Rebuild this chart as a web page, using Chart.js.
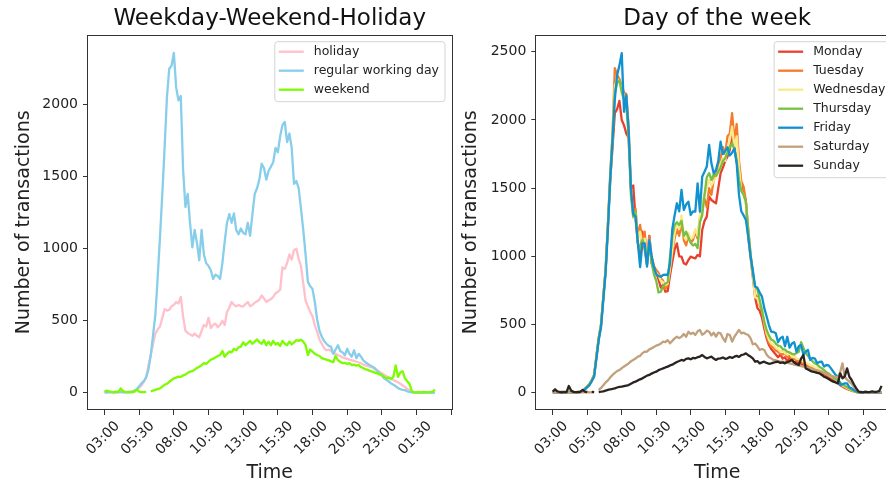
<!DOCTYPE html>
<html lang="en">
<head>
<meta charset="UTF-8" />
<title>Transactions by time of day</title>
<script src="https://cdn.jsdelivr.net/npm/chart.js@4"></script>
<style>
  html, body { margin: 0; padding: 0; background: #fff; }
  body { width: 886px; height: 486px; overflow: hidden; position: relative; }
  .panel { position: absolute; top: 0; }
  #left { left: 0; }
  #right { left: 460px; }
</style>
</head>
<body>
<div class="panel" id="left"><canvas id="chartLeft" width="460" height="486"></canvas></div>
<div class="panel" id="right"><canvas id="chartRight" width="460" height="486"></canvas></div>
<script>
// 10-minute slots from 03:00 to 02:50 (next day), as minutes after 03:00
const minutes = [];
for (let i = 0; i < 144; i++) minutes.push(i * 10);

const tickMinutes = [0, 150, 300, 450, 600, 750, 900, 1050, 1200, 1350, 1500];
const tickLabels = ['03:00', '05:30', '08:00', '10:30', '13:00', '15:30', '18:00', '20:30', '23:00', '01:30', ''];
const yTicksLeft = [0, 500, 1000, 1500, 2000];
const yTicksRight = [0, 500, 1000, 1500, 2000, 2500];

// left panel
const holiday = [
  2, 1, 3, 2, 1, 2, 4, 3, 2, 1, 2, 3,
  5, 10, 20, 35, 50, 75, 110, 190, 260, 340, 410, 440,
  460, 520, 580, 570, 575, 600, 610, 630, 620, 665, 530, 430,
  415, 405, 395, 410, 395, 385, 430, 470, 460, 520, 450, 470,
  480, 455, 470, 500, 470, 560, 590, 630, 610, 600, 610, 600,
  600, 615, 630, 600, 610, 625, 635, 645, 675, 655, 630, 640,
  650, 665, 690, 700, 715, 870, 860, 900, 960, 925, 990, 1000,
  930, 880, 760, 640, 600, 560, 530, 470, 420, 370, 340, 310,
  295, 300, 290, 275, 270, 260, 255, 245, 240, 235, 230, 225,
  222, 215, 210, 205, 195, 190, 185, 180, 175, 165, 158, 145,
  135, 125, 115, 105, 98, 88, 80, 72, 62, 50, 40, 28,
  18, 8, 2, 0, 0, 0, 0, 0, 0, 0, 0, 0
];
const regularDay = [
  5, 3, 4, 6, 3, 2, 5, 8, 4, 3, 6, 5,
  8, 15, 25, 45, 65, 80, 105, 160, 260, 400, 540, 800,
  1080, 1380, 1700, 2050, 2250, 2270, 2360, 2120, 2030, 2060, 1550, 1290,
  1380, 1180, 1010, 1130, 1040, 920, 1130, 960, 900, 880, 850, 790,
  820, 810, 790, 900, 1050, 1180, 1240, 1180, 1245, 1130, 1100, 1140,
  1110, 1100, 1180, 1090, 1240, 1380, 1420, 1480, 1590, 1560, 1480, 1540,
  1570, 1600, 1700, 1670, 1780, 1860, 1880, 1740, 1800, 1700, 1450, 1470,
  1420, 1280, 1130, 960, 770, 740, 720, 630, 510, 430, 390, 360,
  340, 325, 320, 270, 300, 330, 290, 280, 260, 305, 270, 250,
  295, 240, 270, 250, 225, 210, 200, 190, 180, 170, 150, 135,
  120, 100, 90, 78, 65, 55, 45, 32, 25, 20, 18, 10,
  6, 2, 0, 0, 0, 0, 0, 0, 0, 0, 0, 0
];
const weekend = [
  8, 15, 10, 6, 4, 8, 5, 30, 12, 6, 4, 6,
  5, 8, 22, 8, 5, 4, 6, null, 8, 15, 20, 25,
  30, 42, 55, 62, 76, 88, 100, 105, 112, 110, 120, 125,
  138, 146, 150, 160, 172, 180, 192, 205, 200, 215, 230, 235,
  245, 255, 262, 290, 250, 270, 285, 280, 305, 295, 315, 320,
  350, 330, 345, 360, 340, 355, 370, 350, 340, 365, 330, 355,
  330, 360, 335, 345, 325, 360, 340, 330, 355, 335, 350, 365,
  360, 368, 355, 330, 262, 300, 285, 270, 262, 255, 240, 235,
  230, 225, 218, 212, 255, 225, 215, 205, 208, 200, 205, 192,
  195, 188, 192, 178, 170, 162, 158, 150, 146, 140, 134, 126,
  125, 110, 100, 105, 95, 110, 190, 110, 140, 150, 100, 80,
  60, 10, 3, 2, 4, 3, 5, 4, 3, 6, 8, 22
];

// right panel
const monday = [
  2, 4, 3, 2, 5, 3, 2, 4, 3, 2, 3, 4,
  6, 14, 28, 45, 65, 95, 130, 270, 400, 500, 700, 900,
  1230, 1560, 1800, 2050, 2080, 2140, 2000, 1960, 1900, 1870, 1500, 1520,
  1280, 1100, 1000, 1180, 1050, 940, 1150, 950, 920, 880, 830, 770,
  790, 740, 745, 860, 960, 1050, 1095, 1000, 998, 949, 940, 973,
  998, 990, 985, 1010, 1000, 1193, 1260, 1291, 1438, 1413, 1400, 1389,
  1500, 1609, 1650, 1700, 1731, 1780, 1902, 1800, 1700, 1560, 1520, 1480,
  1400, 1150, 1000, 850, 700, 620, 600, 550, 470, 400, 350, 320,
  300, 280, 260, 280, 250, 260, 230, 255, 240, 220, 230, 210,
  215, 200, 195, 185, 180, 175, 165, 160, 150, 140, 135, 125,
  115, 100, 95, 80, 70, 55, 45, 35, 28, 20, 15, 10,
  5, 2, 0, 0, 0, 0, 0, 0, 0, 0, 0, 0
];
const tuesday = [
  3, 10, 4, 3, 2, 4, 3, 6, 2, 5, 4, 3,
  5, 13, 26, 42, 60, 90, 125, 260, 395, 490, 700, 900,
  1230, 1600, 1900, 2380, 2330, 2300, 2250, 2200, 2190, 1950, 1500, 1300,
  1350, 1150, 1230, 1100, 1180, 950, 1150, 1000, 930, 900, 880, 840,
  820, 760, 790, 900, 1020, 1130, 1200, 1150, 1250, 1120, 1080, 1150,
  1100, 1120, 1180, 1130, 1280, 1380, 1420, 1360, 1500, 1450, 1560, 1600,
  1650, 1720, 1800, 1750, 1880, 1900, 2050, 1850, 1970, 1700, 1550, 1510,
  1400, 1200, 1020, 880, 720, 700, 640, 600, 500, 420, 370, 340,
  330, 310, 300, 285, 280, 290, 260, 270, 250, 245, 240, 230,
  225, 215, 210, 200, 190, 185, 175, 170, 165, 150, 145, 135,
  125, 115, 105, 95, 80, 65, 50, 40, 32, 25, 18, 10,
  5, 2, 0, 0, 0, 0, 0, 0, 0, 0, 0, 0
];
const wednesday = [
  2, 3, 4, 2, 3, 5, 2, 3, 4, 2, 3, 2,
  6, 13, 27, 43, 62, 92, 128, 265, 398, 495, 700, 900,
  1220, 1580, 1880, 2250, 2300, 2280, 2230, 2180, 2150, 1900, 1480, 1280,
  1320, 1120, 1180, 1080, 1130, 950, 1120, 980, 900, 880, 860, 820,
  810, 790, 800, 920, 1050, 1170, 1240, 1200, 1300, 1150, 1120, 1170,
  1130, 1140, 1200, 1150, 1300, 1400, 1450, 1500, 1560, 1520, 1550, 1580,
  1620, 1680, 1720, 1700, 1800, 1850, 1950, 1800, 1880, 1650, 1480, 1450,
  1380, 1180, 1000, 860, 700, 690, 650, 620, 520, 440, 390, 360,
  350, 330, 320, 300, 310, 290, 280, 290, 265, 270, 250, 245,
  240, 228, 222, 212, 200, 195, 185, 178, 170, 160, 150, 140,
  130, 120, 110, 98, 85, 70, 55, 45, 35, 26, 18, 10,
  5, 2, 0, 0, 0, 0, 0, 0, 0, 0, 0, 0
];
const thursday = [
  3, 2, 3, 4, 2, 3, 5, 2, 3, 4, 2, 3,
  6, 14, 28, 44, 63, 93, 130, 268, 400, 500, 705, 905,
  1230, 1590, 1880, 2200, 2270, 2290, 2200, 2150, 2100, 1880, 1450, 1290,
  1330, 1100, 1050, 1120, 1080, 940, 1100, 950, 870, 820, 735, 740,
  780, 800, 810, 1000, 1150, 1230, 1250, 1230, 1260, 1150, 1180, 1140,
  1100, 1080, 1090, 1060, 1250, 1300, 1450, 1580, 1610, 1560, 1600, 1590,
  1620, 1650, 1700, 1720, 1760, 1800, 1830, 1780, 1700, 1560, 1480, 1450,
  1400, 1200, 1020, 870, 780, 760, 680, 600, 520, 460, 420, 390,
  380, 360, 345, 340, 320, 315, 300, 295, 285, 280, 290, 300,
  370, 330, 290, 270, 245, 230, 215, 205, 190, 180, 165, 150,
  140, 125, 110, 100, 90, 75, 60, 50, 40, 30, 20, 12,
  6, 2, 0, 0, 0, 0, 0, 0, 0, 0, 0, 0
];
const friday = [
  3, 5, 2, 4, 6, 3, 2, 5, 4, 3, 2, 4,
  5, 12, 25, 40, 56, 85, 117, 250, 386, 480, 680, 880,
  1200, 1560, 1850, 2150, 2330, 2400, 2490, 2060, 2180, 1930, 1500, 1310,
  1290, 1100, 920, 1095, 1095, 924, 1120, 1000, 920, 870, 855, 850,
  863, 865, 863, 949, 1200, 1300, 1389, 1330, 1487, 1340, 1380, 1401,
  1303, 1330, 1328, 1535, 1328, 1584, 1620, 1658, 1817, 1682, 1609, 1633,
  1700, 1840, 1750, 1770, 1800, 1740, 1760, 1790, 1680, 1450, 1330, 1300,
  1267, 1144, 1000, 900, 777, 770, 735, 704, 620, 560, 496, 447,
  445, 435, 370, 400, 410, 340, 410, 330, 360, 370, 300, 340,
  350, 280, 300, 313, 240, 255, 250, 215, 225, 227, 191, 203,
  200, 178, 154, 130, 117, 56, 62, 68, 68, 40, 32, 20,
  10, 4, 0, 0, 0, 0, 0, 0, 0, 0, 0, 0
];
const saturday = [
  2, 3, 2, 4, 3, 2, 3, 2, 4, 3, 2, 3,
  3, 2, 4, 3, 2, 3, 4, null, 20, 35, 55, 75,
  90, 112, 130, 145, 158, 166, 180, 192, 203, 215, 230, 240,
  250, 264, 270, 290, 300, 301, 318, 325, 335, 345, 350, 360,
  374, 370, 385, 362, 380, 398, 410, 400, 411, 430, 410, 447,
  430, 440, 423, 450, 460, 425, 435, 455, 447, 420, 440, 411,
  440, 435, 400, 374, 430, 423, 374, 410, 435, 460, 435, 440,
  430, 423, 400, 355, 360, 340, 313, 320, 313, 280, 260, 252,
  240, 238, 232, 227, 228, 225, 220, 215, 212, 205, 203, 198,
  195, 191, 188, 182, 178, 172, 168, 163, 158, 154, 145, 138,
  130, 125, 120, 117, 110, 150, 215, 117, 95, 81, 65, 44,
  25, 7, 3, 2, 3, 2, 4, 3, 2, 3, 2, 5
];
const sunday = [
  8, 25, 10, 5, 3, 6, 4, 49, 15, 6, 4, 5,
  6, 20, 8, 5, null, 6, 4, null, 5, 7, 10, 15,
  20, 25, 28, 32, 38, 42, 44, 48, 52, 56, 65, 75,
  81, 90, 98, 105, 115, 125, 130, 140, 148, 154, 165, 172,
  178, 185, 191, 200, 205, 215, 225, 232, 240, 235, 248, 252,
  245, 255, 252, 260, 265, 276, 262, 252, 258, 264, 250, 240,
  250, 252, 258, 248, 252, 262, 255, 264, 270, 262, 276, 280,
  288, 275, 265, 252, 227, 232, 215, 222, 227, 218, 212, 215,
  220, 225, 227, 218, 222, 215, 225, 230, 240, 222, 210, 203,
  250, 276, 178, 170, 160, 154, 150, 145, 142, 130, 117, 110,
  100, 90, 81, 75, 68, 142, 105, 120, 178, 117, 93, 60,
  32, 7, 5, 3, 8, 4, 6, 10, 5, 8, 12, 50
];

Chart.defaults.font.family = '"DejaVu Sans", "Liberation Sans", sans-serif';
Chart.defaults.color = '#222';

const series = values => values.map((v, i) => ({ x: minutes[i], y: v }));

function line(label, values, color, order) {
  return {
    label: label, data: series(values), borderColor: color, backgroundColor: color,
    borderWidth: 2.3, pointRadius: 0, tension: 0, borderJoinStyle: 'round', order: order
  };
}

// axes frame on all four sides plus a matplotlib-like legend in the upper right corner
const frameAndLegend = {
  id: 'frameAndLegend',
  afterDatasetsDraw(chart) {
    const { ctx, chartArea: a } = chart;
    ctx.save();
    ctx.strokeStyle = '#333';
    ctx.lineWidth = 1;
    ctx.strokeRect(Math.round(a.left) - 0.5, Math.round(a.top) + 0.5,
      Math.round(a.right - a.left) + 1, Math.round(a.bottom - a.top) - 1);

    const items = chart.data.datasets;
    ctx.font = '12.5px "DejaVu Sans"';
    const textW = Math.max(...items.map(d => ctx.measureText(d.label).width));
    const w = 4 + 25 + 10 + textW + 6;
    const h = 10 + (items.length - 1) * 19 + 12;
    const x0 = a.right - 6.5 - w;
    const y0 = a.top + 7;
    ctx.beginPath();
    ctx.roundRect(x0, y0, w, h, 3);
    ctx.fillStyle = 'rgba(255,255,255,0.8)';
    ctx.fill();
    ctx.strokeStyle = '#d4d4d4';
    ctx.stroke();
    items.forEach((d, k) => {
      const cy = y0 + 10 + k * 19;
      ctx.beginPath();
      ctx.moveTo(x0 + 4, cy);
      ctx.lineTo(x0 + 29, cy);
      ctx.strokeStyle = d.borderColor;
      ctx.lineWidth = 2.3;
      ctx.stroke();
      ctx.fillStyle = '#222';
      ctx.textBaseline = 'middle';
      ctx.fillText(d.label, x0 + 39, cy + 0.5);
    });
    ctx.restore();
  }
};

function options(title, yMin, yMax, yTicks, yWidth, yTitlePad, padRight) {
  return {
    responsive: false,
    animation: false,
    devicePixelRatio: 1,
    layout: { padding: { left: 0, right: padRight, top: 0, bottom: 0 } },
    plugins: {
      legend: { display: false },
      tooltip: { enabled: false },
      title: {
        display: true, text: title, fullSize: false, color: '#111',
        font: { size: 23, weight: 'normal' }, padding: { top: 5.2, bottom: 1.9 }
      }
    },
    scales: {
      x: {
        type: 'linear', min: -71.5, max: 1501.5,
        afterBuildTicks: s => { s.ticks = tickMinutes.map(v => ({ value: v })); },
        afterFit: s => { s.height = 76; s.paddingLeft = 0; s.paddingRight = 0; },
        grid: { drawOnChartArea: false, drawTicks: true, tickLength: 5, color: '#333' },
        border: { display: false },
        ticks: {
          autoSkip: false, maxRotation: 45, minRotation: 45, labelOffset: 13, padding: 3,
          font: { size: 14 }, color: '#222',
          callback: (v, i) => tickLabels[i]
        },
        title: { display: true, text: 'Time', color: '#222', font: { size: 19 }, padding: { top: 0, bottom: 1.6 } }
      },
      y: {
        min: yMin, max: yMax,
        afterBuildTicks: s => { s.ticks = yTicks.map(v => ({ value: v })); },
        afterFit: s => { s.width = yWidth; s.paddingTop = 0; s.paddingBottom = 0; },
        grid: { drawOnChartArea: false, drawTicks: true, tickLength: 5, color: '#333' },
        border: { display: false },
        ticks: { padding: 5, font: { size: 14 }, color: '#222', callback: v => String(v) },
        title: {
          display: true, text: 'Number of transactions', color: '#222',
          font: { size: 19 }, padding: { top: yTitlePad, bottom: 0 }
        }
      }
    }
  };
}

new Chart(document.getElementById('chartLeft'), {
  type: 'line',
  data: {
    datasets: [
      line('holiday', holiday, '#ffc0cb', 3),
      line('regular working day', regularDay, '#87ceeb', 2),
      line('weekend', weekend, '#7cfc00', 1)
    ]
  },
  options: options('Weekday-Weekend-Holiday', -120, 2486, yTicksLeft, 88, 12.6, 8.5),
  plugins: [frameAndLegend]
});

new Chart(document.getElementById('chartRight'), {
  type: 'line',
  data: {
    datasets: [
      line('Monday', monday, '#e8402d', 7),
      line('Tuesday', tuesday, '#f47a2c', 6),
      line('Wednesday', wednesday, '#fbe98a', 5),
      line('Thursday', thursday, '#78c043', 4),
      line('Friday', friday, '#1092d0', 3),
      line('Saturday', saturday, '#c1a07c', 2),
      line('Sunday', sunday, '#2b2320', 1)
    ]
  },
  options: options('Day of the week', -127, 2625, yTicksRight, 76.3, 0, 22),
  plugins: [frameAndLegend]
});
</script>
</body>
</html>
